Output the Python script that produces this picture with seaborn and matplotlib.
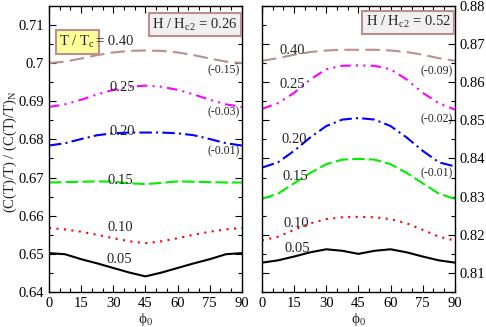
import numpy as np
import pandas as pd
import matplotlib
matplotlib.use('Agg')
import matplotlib.pyplot as plt
import seaborn as sns

# angulos phi_0 (grados)
phi = [0, 7.5, 15, 22.5, 30, 37.5, 45, 52.5, 60, 67.5, 75, 82.5, 90]

# panel izquierdo: H/Hc2 = 0.26
left_040 = [0.7000, 0.7004, 0.7012, 0.7021, 0.7028, 0.7032, 0.7033, 0.7032, 0.7028, 0.7021, 0.7012, 0.7004, 0.7000]
left_025 = [0.6885, 0.6892, 0.6904, 0.6918, 0.6930, 0.6938, 0.6941, 0.6938, 0.6930, 0.6918, 0.6904, 0.6892, 0.6885]
left_020 = [0.6784, 0.6790, 0.6801, 0.6811, 0.6816, 0.6818, 0.6818, 0.6818, 0.6816, 0.6811, 0.6801, 0.6790, 0.6784]
left_015 = [0.6687, 0.6688, 0.6689, 0.6690, 0.6689, 0.6685, 0.6683, 0.6686, 0.6690, 0.6689, 0.6688, 0.6687, 0.6687]
left_010 = [0.6568, 0.6564, 0.6558, 0.6550, 0.6541, 0.6533, 0.6528, 0.6533, 0.6541, 0.6550, 0.6558, 0.6564, 0.6568]
left_005 = [0.6502, 0.6499, 0.6486, 0.6475, 0.6463, 0.6451, 0.6441, 0.6451, 0.6463, 0.6475, 0.6486, 0.6499, 0.6502]

# panel derecho: H/Hc2 = 0.52
right_040 = [0.8656, 0.8663, 0.8672, 0.8679, 0.8683, 0.8685, 0.8685, 0.8685, 0.8683, 0.8679, 0.8672, 0.8663, 0.8656]
right_025 = [0.8530, 0.8545, 0.8572, 0.8607, 0.8634, 0.8643, 0.8644, 0.8643, 0.8634, 0.8607, 0.8572, 0.8545, 0.8528]
right_020 = [0.8376, 0.8390, 0.8420, 0.8455, 0.8485, 0.8502, 0.8506, 0.8502, 0.8485, 0.8455, 0.8420, 0.8390, 0.8379]
right_015 = [0.8294, 0.8308, 0.8335, 0.8362, 0.8385, 0.8397, 0.8399, 0.8397, 0.8385, 0.8362, 0.8335, 0.8308, 0.8294]
right_010 = [0.8185, 0.8195, 0.8213, 0.8230, 0.8241, 0.8246, 0.8247, 0.8246, 0.8241, 0.8230, 0.8213, 0.8195, 0.8185]
right_005 = [0.8127, 0.8133, 0.8143, 0.8154, 0.8162, 0.8158, 0.8150, 0.8158, 0.8162, 0.8154, 0.8143, 0.8133, 0.8127]

temps = ['0.40', '0.25', '0.20', '0.15', '0.10', '0.05']
colores = ['#BC8F8F', '#FF00FF', '#0000FF', '#00EE00', '#FF0000', '#000000']
estilos = [(0, (7, 3)), (0, (5, 2.5, 1, 2.5, 1, 2.5)), (0, (6, 2, 1, 2)),
           (0, (6, 2)), (0, (1, 2.6)), '-']

sns.set_style('ticks')
plt.rcParams['font.family'] = ['Liberation Serif', 'DejaVu Serif']
plt.rcParams['mathtext.fontset'] = 'custom'
plt.rcParams['mathtext.rm'] = 'Liberation Serif'
plt.rcParams['mathtext.it'] = 'Liberation Serif:italic'
plt.rcParams['font.size'] = 10

fig = plt.figure(figsize=(4.86, 3.27), dpi=100)
ax1 = fig.add_axes([0.1008, 0.107, 0.397, 0.875])
ax2 = fig.add_axes([0.539, 0.107, 0.397, 0.875])

paneles = [
    (ax1, [left_040, left_025, left_020, left_015, left_010, left_005], (0.64, 0.715)),
    (ax2, [right_040, right_025, right_020, right_015, right_010, right_005], (0.805, 0.88)),
]

for ax, series, ylim in paneles:
    for vals, c, ls in zip(series, colores, estilos):
        sns.lineplot(x=phi, y=vals, ax=ax, color=c, lw=1.5, linestyle=ls)
    ax.set_xlim(0, 90)
    ax.set_ylim(*ylim)
    ax.set_xticks(np.arange(0, 91, 15))
    ax.set_xticks(np.arange(0, 91, 5), minor=True)
    ax.set_yticks(np.arange(ylim[0], ylim[1] + 1e-9, 0.005), minor=True)
    ax.tick_params(which='both', direction='in', top=True, right=True, left=True,
                   bottom=True, labelsize=10.5, colors='black', width=0.8)
    ax.tick_params(which='major', length=5)
    ax.tick_params(which='minor', length=3)
    ax.set_xlabel('ϕ$_0$', fontsize=11, labelpad=1)
    for s in ax.spines.values():
        s.set_linewidth(1.0)
        s.set_color('black')

ax1.set_yticks([0.64, 0.65, 0.66, 0.67, 0.68, 0.69, 0.70, 0.71])
ax1.set_yticklabels(['0.64', '0.65', '0.66', '0.67', '0.68', '0.69', '0.7', '0.71'])
ax1.set_ylabel('(C(T)/T) / (C(T)/T)$_\\mathrm{N}$', fontsize=10.5)
ax1.yaxis.set_label_coords(-0.155, 0.49)

ax2.set_yticks([0.81, 0.82, 0.83, 0.84, 0.85, 0.86, 0.87, 0.88])
ax2.set_yticklabels(['0.81', '0.82', '0.83', '0.84', '0.85', '0.86', '0.87', '0.88'])
ax2.yaxis.tick_right()
ax2.tick_params(which='both', left=True, right=True, labelleft=False, labelright=True)
ax2.set_ylabel('')

# etiquetas de temperatura
fs = 10.5
ax1.text(4.8, 0.7055, 'T / T$_\\mathrm{c}$', fontsize=fs, va='center', ha='left',
         bbox=dict(boxstyle='square,pad=0.25', fc='#FFFF99', ec='#BC8F8F', lw=1.5))
ax1.text(22.0, 0.7057, '= 0.40', fontsize=fs, va='center', ha='left')
pos_izq = [(28, 0.6937), (28, 0.6822), (27.5, 0.6693), (27.5, 0.6568), (27, 0.6484)]
for (x, y), t in zip(pos_izq, temps[1:]):
    ax1.text(x, y, t, fontsize=fs, ha='left', va='center')
for (y, t) in [(0.6981, '(-0.15)'), (0.6872, '(-0.03)'), (0.6770, '(-0.01)')]:
    ax1.text(89, y, t, fontsize=8.5, ha='right', va='center')
ax1.text(88, 0.7101, 'H / H$_\\mathrm{c2}$ = 0.26', fontsize=fs, ha='right', va='center',
         bbox=dict(boxstyle='square,pad=0.25', fc='#F0F0F0', ec='#BC8F8F', lw=1.5))

pos_der = [(8, 0.8682), (8, 0.8594), (9, 0.8450), (9.5, 0.8352), (10, 0.8230), (10.5, 0.8165)]
for (x, y), t in zip(pos_der, temps):
    ax2.text(x, y, t, fontsize=fs, ha='left', va='center')
for (y, t) in [(0.8629, '(-0.09)'), (0.8503, '(-0.02)'), (0.8360, '(-0.01)')]:
    ax2.text(89, y, t, fontsize=8.5, ha='right', va='center')
ax2.text(88, 0.8757, 'H / H$_\\mathrm{c2}$ = 0.52', fontsize=fs, ha='right', va='center',
         bbox=dict(boxstyle='square,pad=0.25', fc='#F0F0F0', ec='#BC8F8F', lw=1.5))

fig.savefig('out.png', dpi=100)
